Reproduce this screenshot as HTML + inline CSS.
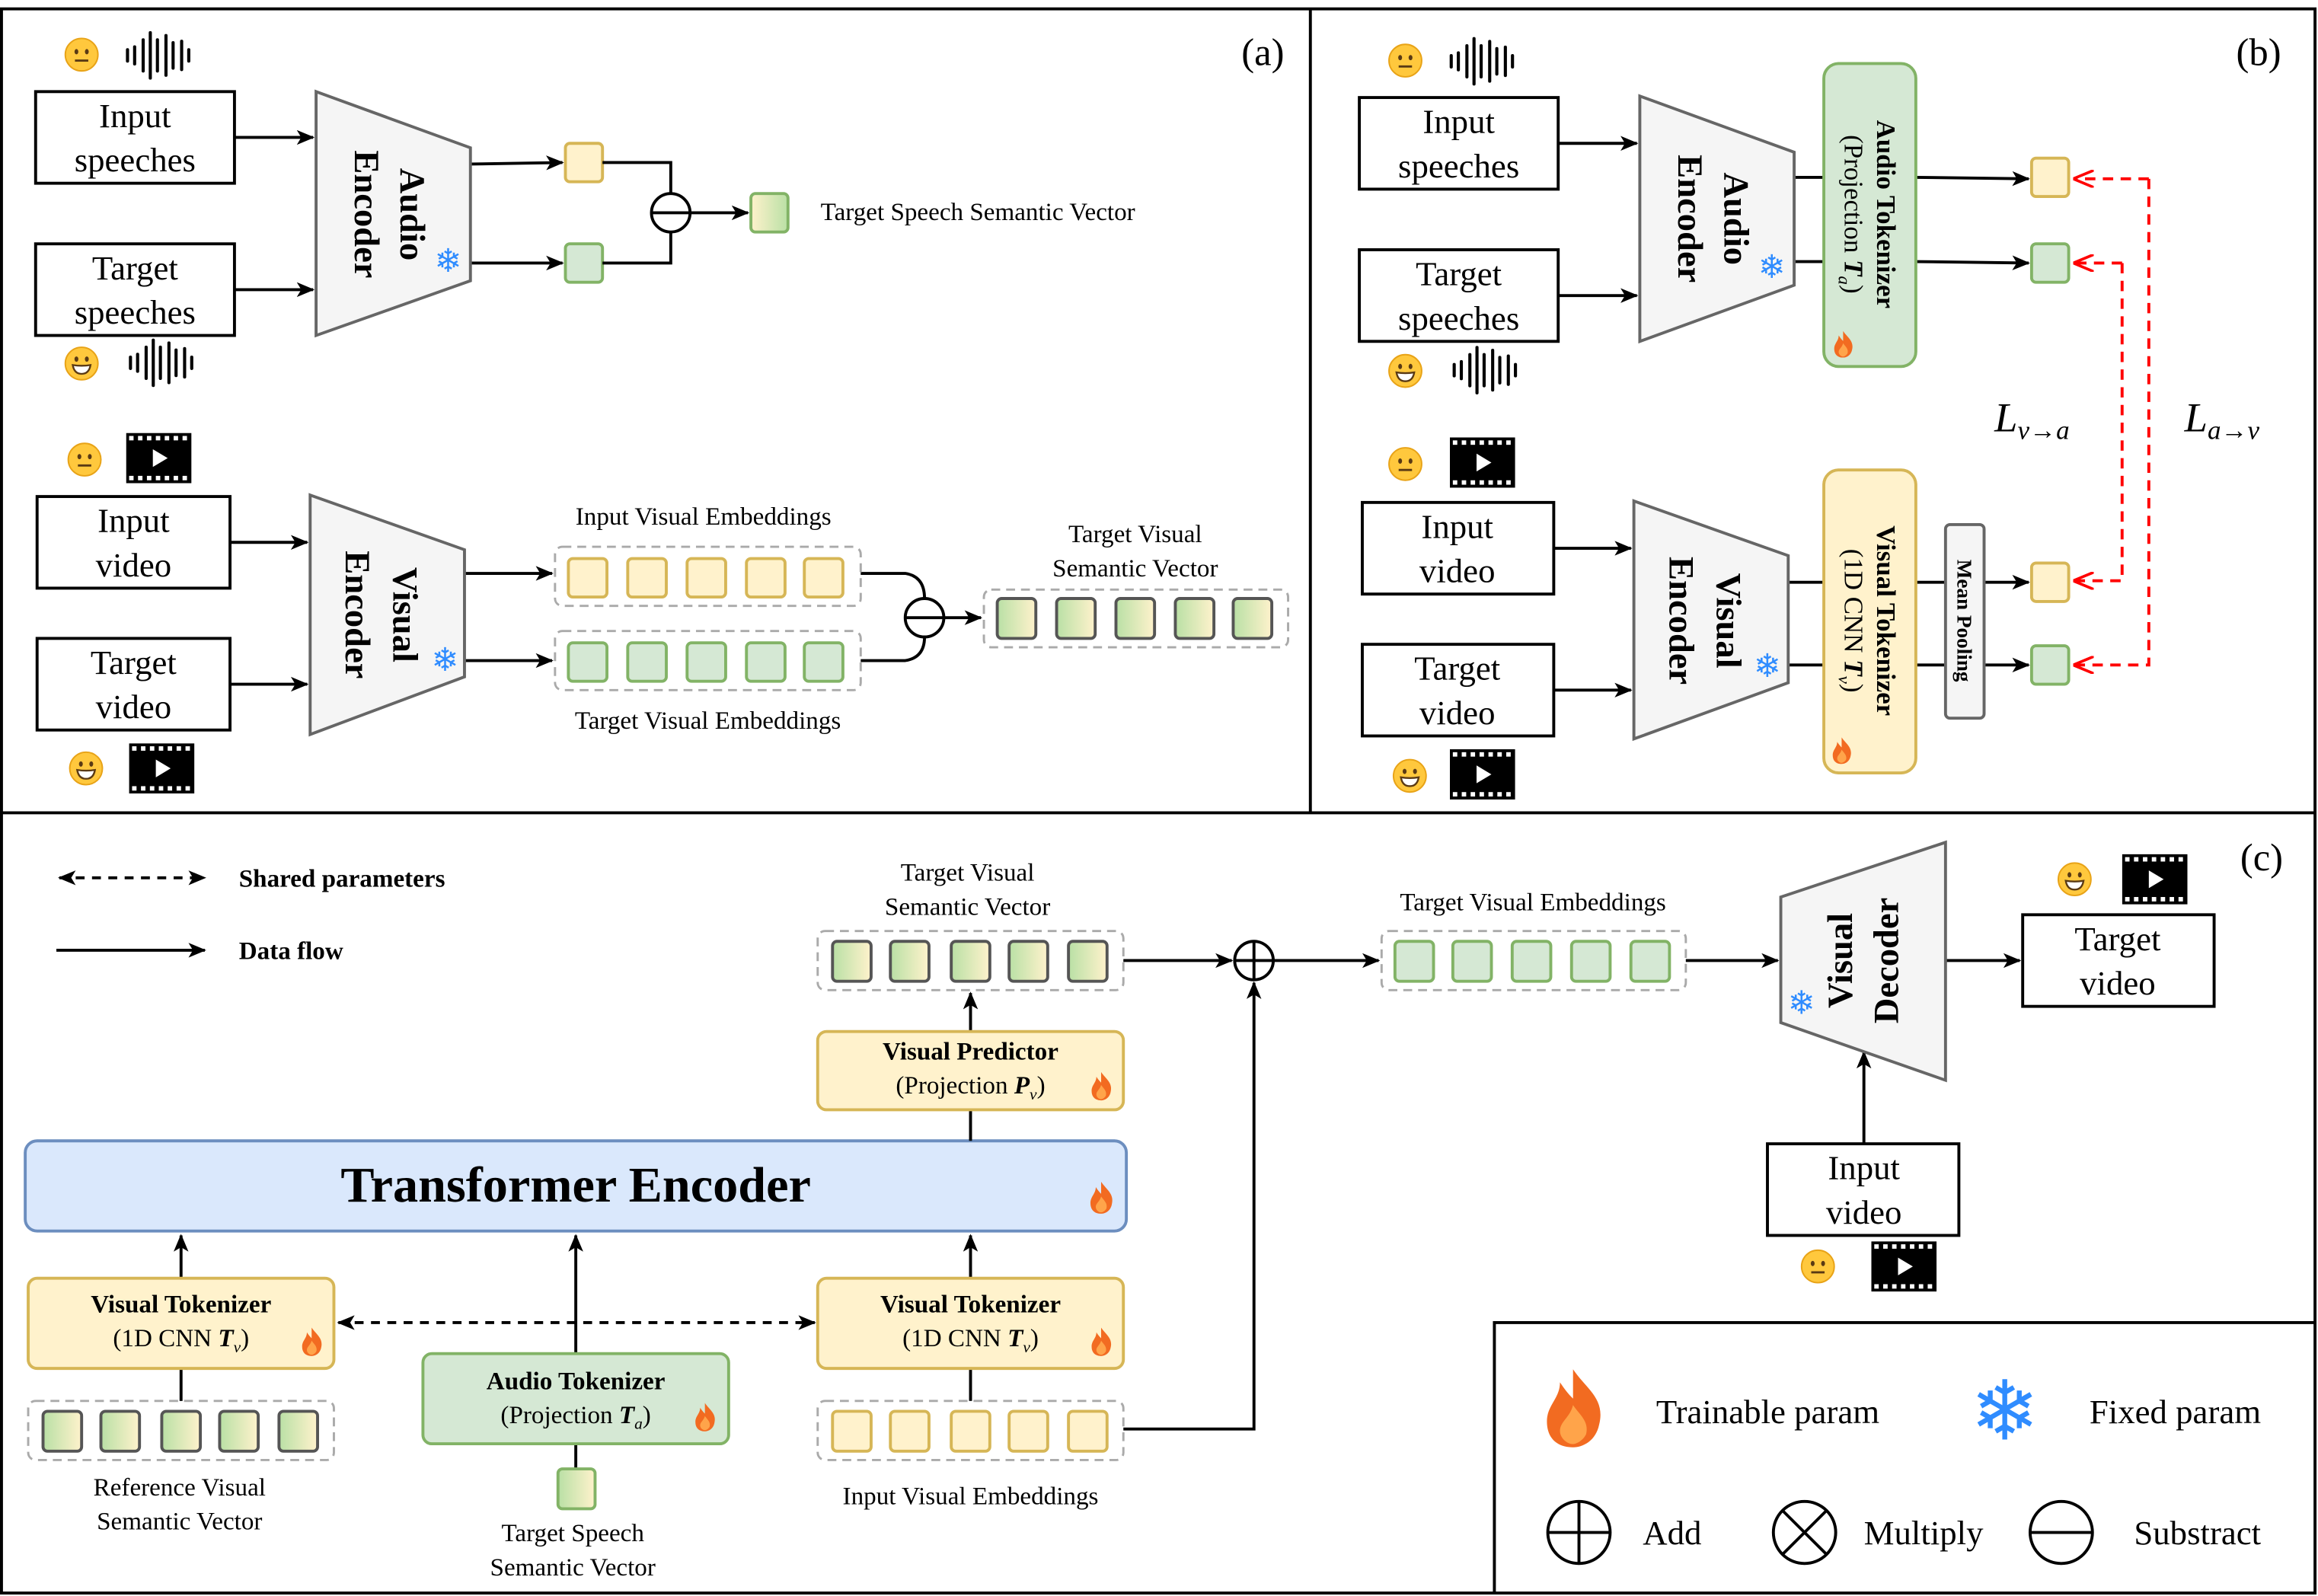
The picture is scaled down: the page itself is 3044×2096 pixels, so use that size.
<!DOCTYPE html>
<html><head><meta charset="utf-8"><style>
html,body{margin:0;padding:0;background:#fff}
svg{display:block}
text{font-family:"Liberation Serif",serif;fill:#000}
.b{font-weight:bold}
.sf{font-family:"DejaVu Sans",sans-serif;fill:#2f8cff}
</style></head><body>
<svg width="3044" height="2096" viewBox="0 0 1562 1080" preserveAspectRatio="none" xmlns="http://www.w3.org/2000/svg">
<defs>
<marker id="ar" viewBox="0 0 12 10" refX="11" refY="5" markerWidth="12" markerHeight="10" markerUnits="userSpaceOnUse" orient="auto-start-reverse"><path d="M0,0 L12,5 L0,10 L3,5 Z" fill="#000"/></marker>
<marker id="rr" viewBox="0 0 12 10" refX="12" refY="5" markerWidth="14" markerHeight="12" markerUnits="userSpaceOnUse" orient="auto"><path d="M0,0 L12,5 L0,10" fill="none" stroke="#f00" stroke-width="1.6"/></marker>
<linearGradient id="g" x1="0" x2="1" y1="0" y2="0"><stop offset="0" stop-color="#b9e0a5"/><stop offset="1" stop-color="#fff2cc"/></linearGradient>
<linearGradient id="g2" x1="0" x2="1" y1="0" y2="0"><stop offset="0" stop-color="#fff2cc"/><stop offset="1" stop-color="#b9e0a5"/></linearGradient>
<symbol id="fn" viewBox="0 0 24 24"><circle cx="12" cy="12" r="11" fill="#ffc83d" stroke="#e8a317"/><ellipse cx="8.5" cy="10" rx="1.3" ry="1.8" fill="#5a3a14"/><ellipse cx="15.5" cy="10" rx="1.3" ry="1.8" fill="#5a3a14"/><line x1="7.5" y1="16" x2="16.5" y2="16" stroke="#5a3a14" stroke-width="1.5"/></symbol>
<symbol id="fs" viewBox="0 0 24 24"><circle cx="12" cy="12" r="11" fill="#ffc83d" stroke="#e8a317"/><ellipse cx="8.5" cy="9" rx="1.3" ry="1.8" fill="#5a3a14"/><ellipse cx="15.5" cy="9" rx="1.3" ry="1.8" fill="#5a3a14"/><path d="M6,13 Q12,14 18,13 Q17,19 12,19 Q7,19 6,13 Z" fill="#fff" stroke="#5a3a14" stroke-width="1.2"/></symbol>
<symbol id="wv" viewBox="0 0 50 34" stroke="#000" stroke-width="2.2" stroke-linecap="round"><line x1="2" y1="13" x2="2" y2="21"/><line x1="7" y1="11" x2="7" y2="23"/><line x1="13" y1="6" x2="13" y2="28"/><line x1="18" y1="1" x2="18" y2="33"/><line x1="23" y1="6" x2="23" y2="28"/><line x1="29" y1="3" x2="29" y2="31"/><line x1="34" y1="8" x2="34" y2="26"/><line x1="40" y1="7" x2="40" y2="27"/><line x1="45" y1="13" x2="45" y2="21"/></symbol>
<symbol id="fm" viewBox="0 0 44 34"><rect x="0" y="0" width="44" height="34" fill="#000"/><g fill="#fff"><rect x="2" y="2" width="3" height="3"/><rect x="8" y="2" width="3" height="3"/><rect x="14" y="2" width="3" height="3"/><rect x="20" y="2" width="3" height="3"/><rect x="26" y="2" width="3" height="3"/><rect x="32" y="2" width="3" height="3"/><rect x="38" y="2" width="3" height="3"/><rect x="2" y="29" width="3" height="3"/><rect x="8" y="29" width="3" height="3"/><rect x="14" y="29" width="3" height="3"/><rect x="20" y="29" width="3" height="3"/><rect x="26" y="29" width="3" height="3"/><rect x="32" y="29" width="3" height="3"/><rect x="38" y="29" width="3" height="3"/><path d="M18,11 L28,17 L18,23 Z"/></g></symbol>
<symbol id="fi" viewBox="0 0 20 24"><path d="M10,0 C14,6 20,9 18,17 C17,22 13,24 10,24 C6,24 2,22 2,16 C2,11 6,9 6,4 C8,7 9,8 10,9 Z" fill="#f26b21"/><path d="M10,11 C12,14 15,16 14,20 C13,22 11,23 10,23 C8,23 6,21 6,19 C6,16 9,15 10,11 Z" fill="#ffa44a"/></symbol>
</defs>
<rect width="1562" height="1080" fill="#fff"/>
<g fill="none" stroke="#000" stroke-width="2">
<rect x="1" y="6" width="1559" height="1072"/>
<line x1="883" y1="6" x2="883" y2="550"/>
<line x1="1" y1="550" x2="1560" y2="550"/>
<path d="M1007,1078 V895 H1560"/>
</g>

<!-- ===== (a) ===== -->
<text x="851" y="44" font-size="26" text-anchor="middle">(a)</text>
<use href="#fn" x="43" y="25" width="24" height="24"/><use href="#wv" x="84" y="21" width="48" height="33"/>
<use href="#fs" x="43" y="234" width="24" height="24"/><use href="#wv" x="86" y="229" width="48" height="33"/>
<g fill="#fff" stroke="#000" stroke-width="2">
<rect x="24" y="62" width="134" height="62"/><rect x="24" y="165" width="134" height="62"/>
<rect x="25" y="336" width="130" height="62"/><rect x="25" y="432" width="130" height="62"/>
</g>
<g font-size="23" text-anchor="middle">
<text x="91" y="86">Input</text><text x="91" y="116">speeches</text>
<text x="91" y="189">Target</text><text x="91" y="219">speeches</text>
<text x="90" y="360">Input</text><text x="90" y="390">video</text>
<text x="90" y="456">Target</text><text x="90" y="486">video</text>
</g>
<g stroke="#000" stroke-width="2" fill="none" marker-end="url(#ar)">
<line x1="158" y1="93" x2="211" y2="93"/><line x1="158" y1="196" x2="211" y2="196"/>
<line x1="155" y1="367" x2="207" y2="367"/><line x1="155" y1="463" x2="207" y2="463"/>
<line x1="317" y1="111" x2="379" y2="110"/><line x1="317" y1="178" x2="379" y2="178"/>
<line x1="465" y1="144" x2="504" y2="144"/>
<line x1="313" y1="388" x2="372" y2="388"/><line x1="313" y1="447" x2="372" y2="447"/>
<line x1="636" y1="418" x2="661" y2="418"/>
</g>
<polygon points="213,62 317,100 317,190 213,227" fill="#f5f5f5" stroke="#666" stroke-width="2"/>
<g transform="translate(265,145) rotate(90)" font-size="24" text-anchor="middle" class="b"><text class="b" y="-5">Audio</text><text class="b" y="26">Encoder</text></g>
<text x="302" y="184" font-size="22" class="sf" text-anchor="middle">❄</text>
<polygon points="209,335 313,372 313,458 209,497" fill="#f5f5f5" stroke="#666" stroke-width="2"/>
<g transform="translate(259,416) rotate(90)" font-size="24" text-anchor="middle"><text class="b" y="-6">Visual</text><text class="b" y="26">Encoder</text></g>
<text x="300" y="454" font-size="22" class="sf" text-anchor="middle">❄</text>
<rect x="381" y="97" width="25" height="26" rx="3" fill="#fff2cc" stroke="#d6b656" stroke-width="2"/>
<rect x="381" y="165" width="25" height="26" rx="3" fill="#d5e8d4" stroke="#82b366" stroke-width="2"/>
<g fill="none" stroke="#000" stroke-width="2">
<path d="M406,110 H452 V131"/><path d="M406,178 H452 V157"/>
<circle cx="452" cy="144" r="13" fill="#fff"/><line x1="439" y1="144" x2="465" y2="144"/>
<path d="M580,388 H610 Q623,390 623,405"/><path d="M580,447 H610 Q623,445 623,431"/>
<circle cx="623" cy="418" r="13" fill="#fff"/><line x1="610" y1="418" x2="636" y2="418"/>
</g>
<rect x="506" y="131" width="25" height="26" rx="3" fill="url(#g2)" stroke="#82b366" stroke-width="2"/>
<text x="553" y="149" font-size="17">Target Speech Semantic Vector</text>
<g fill="none" stroke="#aaa" stroke-width="1.5" stroke-dasharray="6,4">
<rect x="374" y="370" width="206" height="40" rx="5"/><rect x="374" y="427" width="206" height="40" rx="5"/>
<rect x="663" y="399" width="205" height="39" rx="5"/>
</g>
<g fill="#fff2cc" stroke="#d6b656" stroke-width="2">
<rect x="383" y="378" width="26" height="26" rx="3"/><rect x="423" y="378" width="26" height="26" rx="3"/><rect x="463" y="378" width="26" height="26" rx="3"/><rect x="503" y="378" width="26" height="26" rx="3"/><rect x="542" y="378" width="26" height="26" rx="3"/>
</g>
<g fill="#d5e8d4" stroke="#82b366" stroke-width="2">
<rect x="383" y="435" width="26" height="26" rx="3"/><rect x="423" y="435" width="26" height="26" rx="3"/><rect x="463" y="435" width="26" height="26" rx="3"/><rect x="503" y="435" width="26" height="26" rx="3"/><rect x="542" y="435" width="26" height="26" rx="3"/>
</g>
<g fill="url(#g)" stroke="#555" stroke-width="2">
<rect x="672" y="405" width="26" height="27" rx="3"/><rect x="712" y="405" width="26" height="27" rx="3"/><rect x="752" y="405" width="26" height="27" rx="3"/><rect x="792" y="405" width="26" height="27" rx="3"/><rect x="831" y="405" width="26" height="27" rx="3"/>
</g>
<g font-size="17" text-anchor="middle">
<text x="474" y="355">Input Visual Embeddings</text><text x="477" y="493">Target Visual Embeddings</text>
<text x="765" y="367">Target Visual</text><text x="765" y="390">Semantic Vector</text>
</g>
<use href="#fn" x="45" y="299" width="24" height="24"/><use href="#fm" x="85" y="293" width="44" height="34"/>
<use href="#fs" x="46" y="508" width="24" height="24"/><use href="#fm" x="87" y="503" width="44" height="34"/>

<!-- ===== (b) ===== -->
<text x="1522" y="44" font-size="26" text-anchor="middle">(b)</text>
<use href="#fn" x="935" y="29" width="24" height="24"/><use href="#wv" x="976" y="25" width="48" height="33"/>
<use href="#fs" x="935" y="239" width="24" height="24"/><use href="#wv" x="978" y="234" width="48" height="33"/>
<use href="#fn" x="935" y="302" width="24" height="24"/><use href="#fm" x="977" y="296" width="44" height="34"/>
<use href="#fs" x="938" y="513" width="24" height="24"/><use href="#fm" x="977" y="507" width="44" height="34"/>
<g fill="#fff" stroke="#000" stroke-width="2">
<rect x="916" y="66" width="134" height="62"/><rect x="916" y="169" width="134" height="62"/>
<rect x="918" y="340" width="129" height="62"/><rect x="918" y="436" width="129" height="62"/>
</g>
<g font-size="23" text-anchor="middle">
<text x="983" y="90">Input</text><text x="983" y="120">speeches</text>
<text x="983" y="193">Target</text><text x="983" y="223">speeches</text>
<text x="982" y="364">Input</text><text x="982" y="394">video</text>
<text x="982" y="460">Target</text><text x="982" y="490">video</text>
</g>
<g stroke="#000" stroke-width="2" fill="none">
<line x1="1050" y1="97" x2="1103" y2="97" marker-end="url(#ar)"/><line x1="1050" y1="200" x2="1103" y2="200" marker-end="url(#ar)"/>
<line x1="1047" y1="371" x2="1099" y2="371" marker-end="url(#ar)"/><line x1="1047" y1="467" x2="1099" y2="467" marker-end="url(#ar)"/>
<line x1="1209" y1="120" x2="1229" y2="120"/><line x1="1209" y1="177" x2="1229" y2="177"/>
<line x1="1291" y1="120" x2="1367" y2="121" marker-end="url(#ar)"/><line x1="1291" y1="177" x2="1367" y2="178" marker-end="url(#ar)"/>
<line x1="1205" y1="394" x2="1229" y2="394"/><line x1="1205" y1="450" x2="1229" y2="450"/>
<line x1="1291" y1="394" x2="1311" y2="394"/><line x1="1291" y1="450" x2="1311" y2="450"/>
<line x1="1337" y1="394" x2="1367" y2="394" marker-end="url(#ar)"/><line x1="1337" y1="450" x2="1367" y2="450" marker-end="url(#ar)"/>
</g>
<polygon points="1105,65 1209,103 1209,193 1105,231" fill="#f5f5f5" stroke="#666" stroke-width="2"/>
<g transform="translate(1157,148) rotate(90)" font-size="24" text-anchor="middle"><text class="b" y="-5">Audio</text><text class="b" y="26">Encoder</text></g>
<text x="1194" y="188" font-size="22" class="sf" text-anchor="middle">❄</text>
<polygon points="1101,339 1205,376 1205,462 1101,500" fill="#f5f5f5" stroke="#666" stroke-width="2"/>
<g transform="translate(1151,420) rotate(90)" font-size="24" text-anchor="middle"><text class="b" y="-6">Visual</text><text class="b" y="26">Encoder</text></g>
<text x="1191" y="458" font-size="22" class="sf" text-anchor="middle">❄</text>
<rect x="1229" y="43" width="62" height="205" rx="10" fill="#d5e8d4" stroke="#82b366" stroke-width="2"/>
<g transform="translate(1260,145) rotate(90)" font-size="18" text-anchor="middle"><text class="b" y="-5">Audio Tokenizer</text><text y="17">(Projection <tspan font-style="italic" font-weight="bold">T</tspan><tspan font-size="12" dy="4" font-style="italic">a</tspan><tspan dy="-4">)</tspan></text></g>
<use href="#fi" x="1234" y="224" width="16" height="18"/>
<rect x="1229" y="318" width="62" height="205" rx="10" fill="#fff2cc" stroke="#d6b656" stroke-width="2"/>
<g transform="translate(1260,420) rotate(90)" font-size="18" text-anchor="middle"><text class="b" y="-5">Visual Tokenizer</text><text y="17">(1D CNN <tspan font-style="italic" font-weight="bold">T</tspan><tspan font-size="12" dy="4" font-style="italic">v</tspan><tspan dy="-4">)</tspan></text></g>
<use href="#fi" x="1233" y="499" width="16" height="18"/>
<rect x="1311" y="355" width="26" height="131" rx="3" fill="#f5f5f5" stroke="#666" stroke-width="2"/>
<g transform="translate(1324,420) rotate(90)" font-size="14" text-anchor="middle"><text class="b" y="5" fill="#333">Mean Pooling</text></g>
<rect x="1369" y="107" width="25" height="26" rx="3" fill="#fff2cc" stroke="#d6b656" stroke-width="2"/>
<rect x="1369" y="165" width="25" height="26" rx="3" fill="#d5e8d4" stroke="#82b366" stroke-width="2"/>
<rect x="1369" y="381" width="25" height="26" rx="3" fill="#fff2cc" stroke="#d6b656" stroke-width="2"/>
<rect x="1369" y="437" width="25" height="26" rx="3" fill="#d5e8d4" stroke="#82b366" stroke-width="2"/>
<g fill="none" stroke="#f00" stroke-width="2" stroke-dasharray="7,5">
<path d="M1448,121 H1397" marker-end="url(#rr)"/><path d="M1448,121 V450 H1397" marker-end="url(#rr)"/>
<path d="M1430,178 H1397" marker-end="url(#rr)"/><path d="M1430,178 V393 H1397" marker-end="url(#rr)"/>
</g>
<text x="1344" y="292" font-size="28" font-style="italic">L<tspan font-size="18" dy="5">v→a</tspan></text>
<text x="1472" y="292" font-size="28" font-style="italic">L<tspan font-size="18" dy="5">a→v</tspan></text>

<!-- ===== (c) ===== -->
<text x="1524" y="589" font-size="26" text-anchor="middle">(c)</text>
<g stroke="#000" stroke-width="2" fill="none">
<line x1="40" y1="594" x2="138" y2="594" stroke-dasharray="6,5" marker-start="url(#ar)" marker-end="url(#ar)"/>
<line x1="38" y1="643" x2="138" y2="643" marker-end="url(#ar)"/>
</g>
<text x="161" y="600" font-size="17" class="b">Shared parameters</text>
<text x="161" y="649" font-size="17" class="b">Data flow</text>
<rect x="17" y="772" width="742" height="61" rx="8" fill="#dae8fc" stroke="#6c8ebf" stroke-width="2"/>
<text x="388" y="813" font-size="34" class="b" text-anchor="middle">Transformer Encoder</text>
<use href="#fi" x="733" y="799" width="18" height="23"/>
<g stroke="#000" stroke-width="2" fill="none">
<line x1="122" y1="865" x2="122" y2="836" marker-end="url(#ar)"/><line x1="122" y1="926" x2="122" y2="948"/>
<line x1="388" y1="916" x2="388" y2="836" marker-end="url(#ar)"/><line x1="388" y1="977" x2="388" y2="994"/>
<line x1="654" y1="865" x2="654" y2="836" marker-end="url(#ar)"/><line x1="654" y1="926" x2="654" y2="948"/>
<line x1="228" y1="895" x2="549" y2="895" stroke-dasharray="6,5" marker-start="url(#ar)" marker-end="url(#ar)"/>
<path d="M757,967 H845 V665" marker-end="url(#ar)"/>
<line x1="654" y1="772" x2="654" y2="751"/><line x1="654" y1="698" x2="654" y2="672" marker-end="url(#ar)"/>
<line x1="757" y1="650" x2="830" y2="650" marker-end="url(#ar)"/>
<line x1="858" y1="650" x2="929" y2="650" marker-end="url(#ar)"/>
<line x1="1136" y1="650" x2="1198" y2="650" marker-end="url(#ar)"/>
<line x1="1311" y1="650" x2="1361" y2="650" marker-end="url(#ar)"/>
<line x1="1256" y1="774" x2="1256" y2="712" marker-end="url(#ar)"/>
<circle cx="845" cy="650" r="13" fill="#fff"/><line x1="832" y1="650" x2="858" y2="650"/><line x1="845" y1="637" x2="845" y2="663"/>
</g>
<g stroke-width="2">
<rect x="19" y="865" width="206" height="61" rx="6" fill="#fff2cc" stroke="#d6b656"/>
<rect x="551" y="865" width="206" height="61" rx="6" fill="#fff2cc" stroke="#d6b656"/>
<rect x="285" y="916" width="206" height="61" rx="6" fill="#d5e8d4" stroke="#82b366"/>
<rect x="551" y="698" width="206" height="53" rx="6" fill="#fff2cc" stroke="#d6b656"/>
</g>
<g font-size="17" text-anchor="middle">
<text x="122" y="888" class="b">Visual Tokenizer</text><text x="122" y="911">(1D CNN <tspan font-style="italic" font-weight="bold">T</tspan><tspan font-size="11" dy="4" font-style="italic">v</tspan><tspan dy="-4">)</tspan></text>
<text x="654" y="888" class="b">Visual Tokenizer</text><text x="654" y="911">(1D CNN <tspan font-style="italic" font-weight="bold">T</tspan><tspan font-size="11" dy="4" font-style="italic">v</tspan><tspan dy="-4">)</tspan></text>
<text x="388" y="940" class="b">Audio Tokenizer</text><text x="388" y="963">(Projection <tspan font-style="italic" font-weight="bold">T</tspan><tspan font-size="11" dy="4" font-style="italic">a</tspan><tspan dy="-4">)</tspan></text>
<text x="654" y="717" class="b">Visual Predictor</text><text x="654" y="740">(Projection <tspan font-style="italic" font-weight="bold">P</tspan><tspan font-size="11" dy="4" font-style="italic">v</tspan><tspan dy="-4">)</tspan></text>
<text x="121" y="1012">Reference Visual</text><text x="121" y="1035">Semantic Vector</text>
<text x="386" y="1043">Target Speech</text><text x="386" y="1066">Semantic Vector</text>
<text x="654" y="1018">Input Visual Embeddings</text>
<text x="652" y="596">Target Visual</text><text x="652" y="619">Semantic Vector</text>
<text x="1033" y="616">Target Visual Embeddings</text>
</g>
<use href="#fi" x="202" y="897" width="16" height="22"/>
<use href="#fi" x="734" y="897" width="16" height="22"/>
<use href="#fi" x="467" y="948" width="16" height="22"/>
<use href="#fi" x="734" y="724" width="16" height="22"/>
<g fill="none" stroke="#aaa" stroke-width="1.5" stroke-dasharray="6,4">
<rect x="19" y="948" width="206" height="40" rx="5"/><rect x="551" y="948" width="206" height="40" rx="5"/>
<rect x="551" y="630" width="206" height="40" rx="5"/><rect x="931" y="630" width="205" height="40" rx="5"/>
</g>
<g fill="url(#g)" stroke="#555" stroke-width="2">
<rect x="29" y="955" width="26" height="27" rx="3"/><rect x="68" y="955" width="26" height="27" rx="3"/><rect x="109" y="955" width="26" height="27" rx="3"/><rect x="148" y="955" width="26" height="27" rx="3"/><rect x="188" y="955" width="26" height="27" rx="3"/>
<rect x="561" y="637" width="26" height="27" rx="3"/><rect x="600" y="637" width="26" height="27" rx="3"/><rect x="641" y="637" width="26" height="27" rx="3"/><rect x="680" y="637" width="26" height="27" rx="3"/><rect x="720" y="637" width="26" height="27" rx="3"/>
</g>
<rect x="376" y="994" width="25" height="27" rx="3" fill="url(#g)" stroke="#82b366" stroke-width="2"/>
<g fill="#fff2cc" stroke="#d6b656" stroke-width="2">
<rect x="561" y="955" width="26" height="27" rx="3"/><rect x="600" y="955" width="26" height="27" rx="3"/><rect x="641" y="955" width="26" height="27" rx="3"/><rect x="680" y="955" width="26" height="27" rx="3"/><rect x="720" y="955" width="26" height="27" rx="3"/>
</g>
<g fill="#d5e8d4" stroke="#82b366" stroke-width="2">
<rect x="940" y="637" width="26" height="27" rx="3"/><rect x="979" y="637" width="26" height="27" rx="3"/><rect x="1019" y="637" width="26" height="27" rx="3"/><rect x="1059" y="637" width="26" height="27" rx="3"/><rect x="1099" y="637" width="26" height="27" rx="3"/>
</g>
<polygon points="1200,607 1311,570 1311,731 1200,692" fill="#f5f5f5" stroke="#666" stroke-width="2"/>
<g transform="translate(1255,650) rotate(-90)" font-size="24" text-anchor="middle"><text class="b" y="-7">Visual</text><text class="b" y="24">Decoder</text></g>
<text x="1214" y="686" font-size="22" class="sf" text-anchor="middle">❄</text>
<g fill="#fff" stroke="#000" stroke-width="2">
<rect x="1363" y="619" width="129" height="62"/><rect x="1191" y="774" width="129" height="62"/>
</g>
<g font-size="23" text-anchor="middle">
<text x="1427" y="643">Target</text><text x="1427" y="673">video</text>
<text x="1256" y="798">Input</text><text x="1256" y="828">video</text>
</g>
<use href="#fs" x="1386" y="583" width="24" height="24"/><use href="#fm" x="1430" y="578" width="44" height="34"/>
<use href="#fn" x="1213" y="845" width="24" height="24"/><use href="#fm" x="1261" y="840" width="44" height="34"/>

<!-- legend -->
<use href="#fi" x="1038" y="925" width="44" height="56"/>
<text x="1116" y="963" font-size="23">Trainable param</text>
<text x="1351" y="974" font-size="56" class="sf" text-anchor="middle">❄</text>
<text x="1408" y="963" font-size="23">Fixed param</text>
<g fill="none" stroke="#000" stroke-width="2">
<circle cx="1064" cy="1037" r="21"/><line x1="1043" y1="1037" x2="1085" y2="1037"/><line x1="1064" y1="1016" x2="1064" y2="1058"/>
<circle cx="1216" cy="1037" r="21"/><line x1="1201" y1="1022" x2="1231" y2="1052"/><line x1="1231" y1="1022" x2="1201" y2="1052"/>
<circle cx="1389" cy="1037" r="21"/><line x1="1368" y1="1037" x2="1410" y2="1037"/>
</g>
<text x="1107" y="1045" font-size="23">Add</text>
<text x="1256" y="1045" font-size="23">Multiply</text>
<text x="1438" y="1045" font-size="23">Substract</text>
</svg>
</body></html>
